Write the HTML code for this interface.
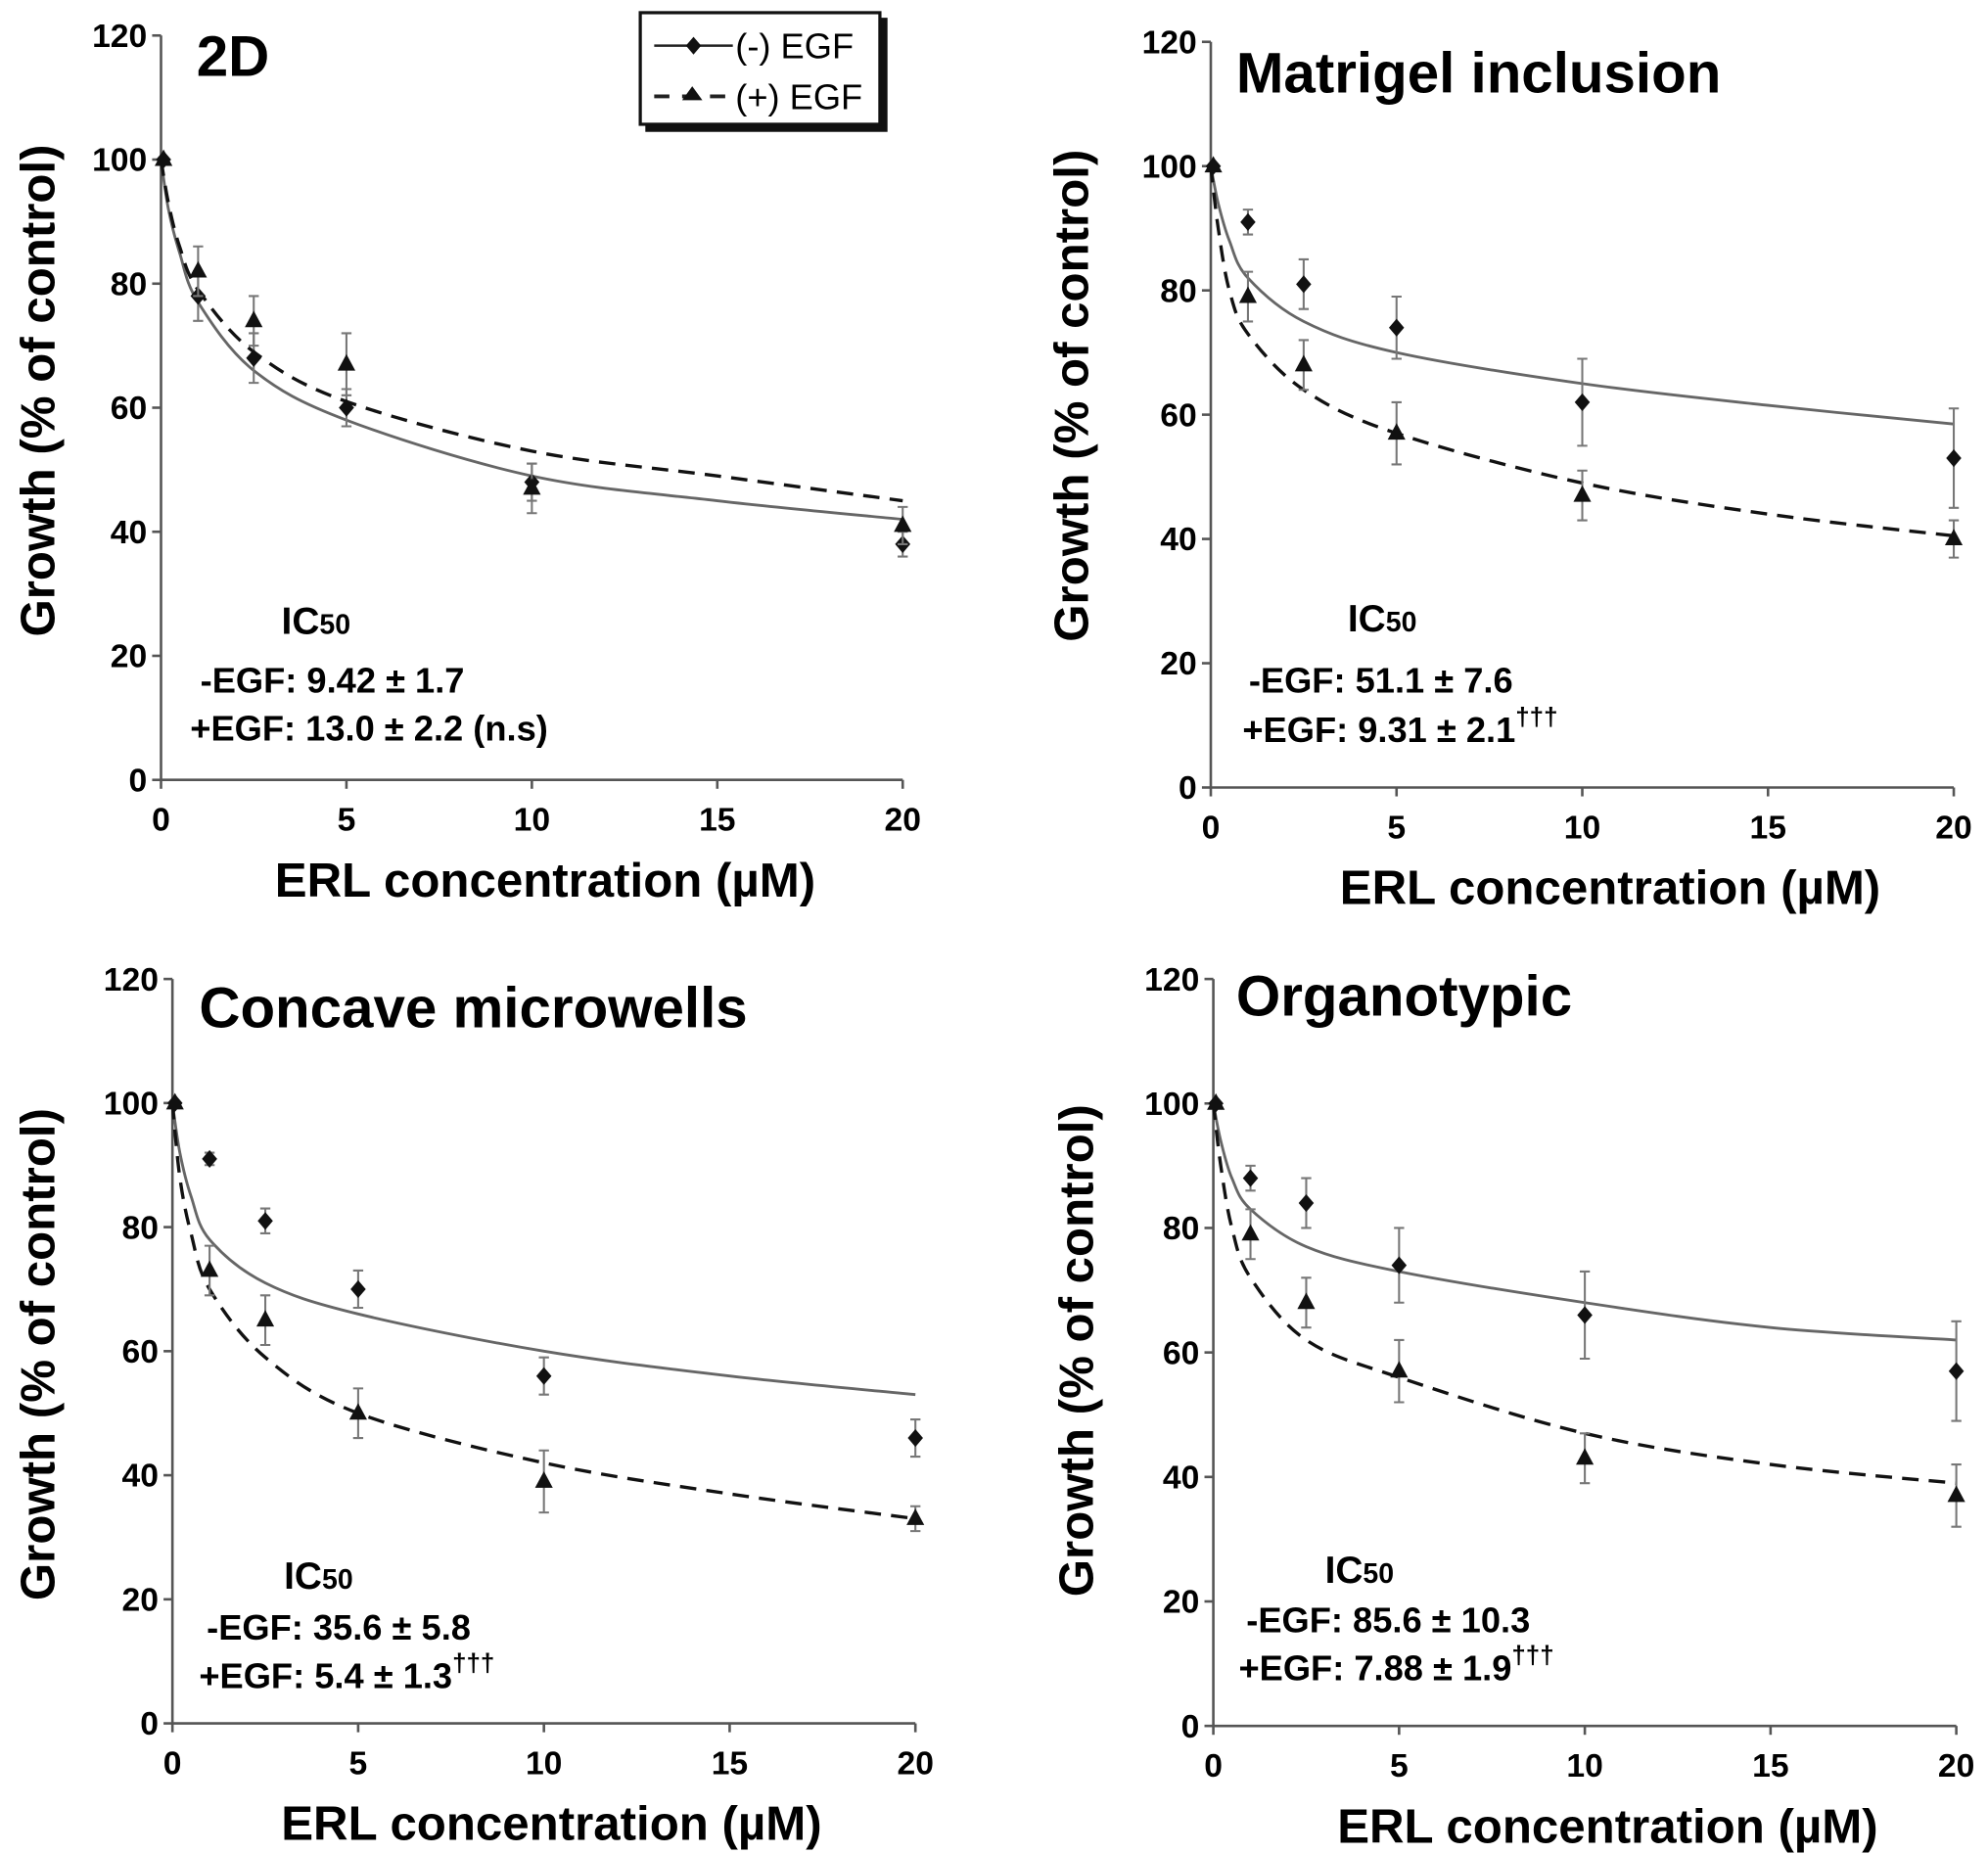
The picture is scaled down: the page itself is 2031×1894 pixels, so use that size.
<!DOCTYPE html>
<html><head><meta charset="utf-8"><style>
html,body{margin:0;padding:0;background:#fff}
svg{display:block}
text{font-family:"Liberation Sans",Arial,sans-serif;font-weight:bold;fill:#000}
</style></head><body>
<svg id="fig" width="2031" height="1894" viewBox="0 0 1568 1462" preserveAspectRatio="none" xmlns="http://www.w3.org/2000/svg"></svg>
<script>
const xDoses = [0, 1, 2.5, 5, 10, 20];
const curveX = [0, 0.2, 0.5, 1, 2.5, 5, 10, 15, 20];
const xTicks = [0, 5, 10, 15, 20];
const yTicks = [0, 20, 40, 60, 80, 100, 120];

const p2dMinus = [100, 78, 68, 60, 48, 38];
const p2dMinusErr = [0, 4, 4, 3, 3, 2];
const p2dPlus = [100, 82, 74, 67, 47, 41];
const p2dPlusErr = [0, 4, 4, 5, 4, 3];
const p2dMinusFit = [100, 92, 85, 77, 66, 58, 49, 45, 42];
const p2dPlusFit = [100, 93, 86, 79, 69, 61, 53, 49, 45];

const matMinus = [100, 91, 81, 74, 62, 53];
const matMinusErr = [0, 2, 4, 5, 7, 8];
const matPlus = [100, 79, 68, 57, 47, 40];
const matPlusErr = [0, 4, 4, 5, 4, 3];
const matMinusFit = [100, 94, 88, 82, 75, 70, 65, 61.5, 58.5];
const matPlusFit = [100, 90, 80, 73, 64, 57, 49, 44, 40.5];

const conMinus = [100, 91, 81, 70, 56, 46];
const conMinusErr = [0, 1, 2, 3, 3, 3];
const conPlus = [100, 73, 65, 50, 39, 33];
const conPlusErr = [0, 4, 4, 4, 5, 2];
const conMinusFit = [100, 92, 85, 78, 71, 66, 60, 56, 53];
const conPlusFit = [100, 88, 79, 70, 59, 50, 42, 37, 33];

const orgMinus = [100, 88, 84, 74, 66, 57];
const orgMinusErr = [0, 2, 4, 6, 7, 8];
const orgPlus = [100, 79, 68, 57, 43, 37];
const orgPlusErr = [0, 4, 4, 5, 4, 5];
const orgMinusFit = [100, 94, 88, 83, 77, 73, 68, 64, 62];
const orgPlusFit = [100, 90, 80, 72, 62, 56, 47, 42, 39];

const NS = "http://www.w3.org/2000/svg";
const svg = document.getElementById("fig");
function el(tag, attrs, parent, txt) {
  const e = document.createElementNS(NS, tag);
  for (const k in attrs) e.setAttribute(k, attrs[k]);
  if (txt !== undefined) e.textContent = txt;
  (parent || svg).appendChild(e);
  return e;
}
function smooth(pts) {
  let d = "M" + pts[0][0] + "," + pts[0][1];
  for (let i = 0; i < pts.length - 1; i++) {
    const p0 = pts[i - 1] || pts[i], p1 = pts[i], p2 = pts[i + 1], p3 = pts[i + 2] || p2;
    const c1 = [p1[0] + (p2[0] - p0[0]) / 6, p1[1] + (p2[1] - p0[1]) / 6];
    const c2 = [p2[0] - (p3[0] - p1[0]) / 6, p2[1] - (p3[1] - p1[1]) / 6];
    d += " C" + c1 + " " + c2 + " " + p2;
  }
  return d;
}
function panel(cfg) {
  const g = el("g", {});
  
  
  const xs = v => cfg.x0 + (cfg.x1 - cfg.x0) * v / 20;
  const ys = v => cfg.y0 - (cfg.y0 - cfg.y1) * v / 120;
  const ax = el("path", {d: `M${cfg.x0},${ys(120)} L${cfg.x0},${cfg.y0} L${cfg.x1},${cfg.y0}`, fill: "none", stroke: "#555", "stroke-width": 2}, g);
  
  
  yTicks.forEach(t => {
    el("line", {x1: cfg.x0 - 7, x2: cfg.x0, y1: ys(t), y2: ys(t), stroke: "#555", "stroke-width": 2}, g);
    const tl = el("text", {x: cfg.x0 - 11, y: ys(t) + 9, "text-anchor": "end", "font-size": 26}, g, t);
    
    
  });
  xTicks.forEach(t => {
    el("line", {x1: xs(t), x2: xs(t), y1: cfg.y0, y2: cfg.y0 + 7, stroke: "#555", "stroke-width": 2}, g);
    const tl = el("text", {x: xs(t), y: cfg.y0 + 40, "text-anchor": "middle", "font-size": 26}, g, t);
    
    
  });
  const xt = el("text", {x: cfg.xtX, y: cfg.y0 + 92, "text-anchor": "middle", "font-size": 38}, g, "ERL concentration (µM)");
  
  
  const yt = el("text", {x: 0, y: 0, "text-anchor": "middle", "font-size": 38, transform: `translate(${cfg.ytX},${cfg.ytY}) rotate(-90)`}, g, "Growth (% of control)");
  
  
  const tt = el("text", {x: cfg.tX, y: cfg.tY, "font-size": 45}, g, cfg.title);
  
  
  const f1 = el("path", {d: smooth(curveX.map((x, i) => [xs(x), ys(cfg.mFit[i])])), fill: "none", stroke: "#666", "stroke-width": 2.2}, g);
  
  
  const f2 = el("path", {d: smooth(curveX.map((x, i) => [xs(x), ys(cfg.pFit[i])])), fill: "none", stroke: "#111", "stroke-width": 2.6, "stroke-dasharray": "13 8"}, g);
  
  
  [[cfg.m, cfg.mE, "d"], [cfg.p, cfg.pE, "t"]].forEach(([vals, errs, kind]) => {
    xDoses.forEach((x, i) => {
      const cx = xs(x) + (x === 0 ? 2 : 0), cy = ys(vals[i]);
      if (errs[i] > 0) {
        const a = ys(vals[i] + errs[i]), b = ys(vals[i] - errs[i]);
        const eb = el("path", {d: `M${cx},${a} L${cx},${b} M${cx - 4},${a} L${cx + 4},${a} M${cx - 4},${b} L${cx + 4},${b}`, stroke: "#777", "stroke-width": 1.6, fill: "none"}, g);
        
        
      }
      let mk;
      if (kind === "d") mk = el("path", {d: `M${cx},${cy - 7} L${cx + 6},${cy} L${cx},${cy + 7} L${cx - 6},${cy} Z`, fill: "#111"}, g);
      else mk = el("path", {d: `M${cx},${cy - 8} L${cx + 7},${cy + 5} L${cx - 7},${cy + 5} Z`, fill: "#111"}, g);
      
      
    });
  });
  const ic = el("text", {x: cfg.icX, y: cfg.icY, "font-size": 30}, g);
  
  
  el("tspan", {}, ic, "IC");
  el("tspan", {"font-size": 22}, ic, "50");
  const a1 = el("text", {x: cfg.a1X, y: cfg.a1Y, "font-size": 28}, g, cfg.a1);
  
  
  const a2 = el("text", {x: cfg.a2X, y: cfg.a2Y, "font-size": 28}, g, cfg.a2);
  
  
  if (cfg.dag) el("tspan", {"font-size": 20, dy: -13}, a2, "†††");
}
panel({name: "2d", title: "2D", x0: 127, x1: 712, y0: 615, y1: 28, xtX: 430, ytX: 43, ytY: 308, tX: 155, tY: 60,
  m: p2dMinus, mE: p2dMinusErr, p: p2dPlus, pE: p2dPlusErr, mFit: p2dMinusFit, pFit: p2dPlusFit,
  icX: 222, icY: 500, a1X: 158, a1Y: 546, a1: "-EGF: 9.42 ± 1.7", a2X: 150, a2Y: 584, a2: "+EGF: 13.0 ± 2.2 (n.s)", dag: false});
panel({name: "matrigel", title: "Matrigel inclusion", x0: 955, x1: 1541, y0: 621, y1: 33, xtX: 1270, ytX: 858, ytY: 312, tX: 975, tY: 73,
  m: matMinus, mE: matMinusErr, p: matPlus, pE: matPlusErr, mFit: matMinusFit, pFit: matPlusFit,
  icX: 1063, icY: 498, a1X: 985, a1Y: 546, a1: "-EGF: 51.1 ± 7.6", a2X: 980, a2Y: 585, a2: "+EGF: 9.31 ± 2.1", dag: true});
panel({name: "concave", title: "Concave microwells", x0: 136, x1: 722, y0: 1359, y1: 772, xtX: 435, ytX: 43, ytY: 1068, tX: 157, tY: 810,
  m: conMinus, mE: conMinusErr, p: conPlus, pE: conPlusErr, mFit: conMinusFit, pFit: conPlusFit,
  icX: 224, icY: 1253, a1X: 163, a1Y: 1293, a1: "-EGF: 35.6 ± 5.8", a2X: 157, a2Y: 1331, a2: "+EGF: 5.4 ± 1.3", dag: true});
panel({name: "organotypic", title: "Organotypic", x0: 957, x1: 1543, y0: 1361, y1: 772, xtX: 1268, ytX: 862, ytY: 1065, tX: 975, tY: 801,
  m: orgMinus, mE: orgMinusErr, p: orgPlus, pE: orgPlusErr, mFit: orgMinusFit, pFit: orgPlusFit,
  icX: 1045, icY: 1248, a1X: 983, a1Y: 1287, a1: "-EGF: 85.6 ± 10.3", a2X: 977, a2Y: 1325, a2: "+EGF: 7.88 ± 1.9", dag: true});
const lg = el("g", {});


el("rect", {x: 509, y: 14, width: 191, height: 90, fill: "#111"}, lg);
el("rect", {x: 505, y: 10, width: 189, height: 88, fill: "#fff", stroke: "#111", "stroke-width": 2.5}, lg);
const le1 = el("g", {}, lg);


el("line", {x1: 516, x2: 578, y1: 36, y2: 36, stroke: "#222", "stroke-width": 2}, le1);
el("path", {d: "M547,29 L553,36 L547,43 L541,36 Z", fill: "#111"}, le1);
el("text", {x: 580, y: 46, "font-size": 28, style: "font-weight:normal"}, le1, "(-) EGF");
const le2 = el("g", {}, lg);


el("line", {x1: 516, x2: 578, y1: 76, y2: 76, stroke: "#222", "stroke-width": 3, "stroke-dasharray": "12 10"}, le2);
el("path", {d: "M546,68 L554,79 L538,79 Z", fill: "#111"}, le2);
el("text", {x: 580, y: 86, "font-size": 28, style: "font-weight:normal"}, le2, "(+) EGF");
</script>
</body></html>
